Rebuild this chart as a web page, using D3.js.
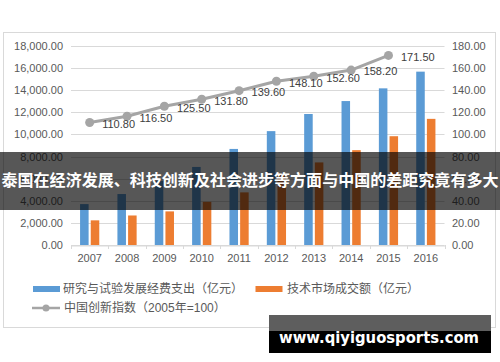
<!DOCTYPE html>
<html>
<head>
<meta charset="utf-8">
<script src="https://cdn.jsdelivr.net/npm/d3@7"></script>
<style>
    body { margin: 0; background: #fff; }
    svg { display: block; font-family: "Liberation Sans", "Noto Sans CJK SC", sans-serif; }
</style>
</head>
<body>
<script>
(function(){

// data
var years = ["2007", "2008", "2009", "2010", "2011", "2012", "2013", "2014", "2015", "2016"];
var rdSpend = [3700, 4610, 5800, 7060, 8690, 10300, 11850, 13020, 14170, 15680]; // 研究与试验发展经费支出
var techMarket = [2230, 2670, 3040, 3910, 4760, 6440, 7470, 8580, 9840, 11410]; // 技术市场成交额
var indexYears = ["2007", "2008", "2009", "2010", "2011", "2012", "2013", "2014", "2015"];
var innovIndex = [110.8, 116.5, 125.5, 131.8, 139.6, 148.1, 152.6, 158.2, 171.5]; // 中国创新指数
var leftTicks = [0, 2000, 4000, 6000, 8000, 10000, 12000, 14000, 16000, 18000];
var rightTicks = [0, 20, 40, 60, 80, 100, 120, 140, 160, 180];
var seriesNames = ["研究与试验发展经费支出（亿元）", "技术市场成交额（亿元）", "中国创新指数（2005年=100）"];
var overlayTitle = "泰国在经济发展、科技创新及社会进步等方面与中国的差距究竟有多大";
var watermark = "www.qiyiguosports.com";

var colors = ["#5b9bd5", "#ed7d31", "#a5a5a5"];

var width = 500, height = 362;
var plotLeft = 71, plotRight = 444.5, plotTop = 46, plotBottom = 245;

var svg = d3.select("body")
    .append("svg")
    .attr("width", width)
    .attr("height", height);

// chart frame
svg.append("rect")
    .attr("x", 3.5).attr("y", 32.5)
    .attr("width", 492).attr("height", 295)
    .attr("fill", "#fff")
    .attr("stroke", "#d9d9d9");

// scales
var x = d3.scaleBand()
    .domain(years)
    .range([plotLeft, plotRight]);

var x1 = d3.scaleBand()
    .domain(["rd", "tm"])
    .range([0, x.bandwidth()])
    .paddingInner(0.2)
    .paddingOuter(0.85);

var y = d3.scaleLinear()
    .domain([0, 18000])
    .range([plotBottom, plotTop]);

var y2 = d3.scaleLinear()
    .domain([0, 180])
    .range([plotBottom, plotTop]);

// gridlines
svg.append("g")
    .selectAll("line")
    .data(leftTicks)
    .enter()
    .append("line")
    .attr("x1", plotLeft).attr("x2", plotRight)
    .attr("y1", function(d){ return Math.round(y(d)) + 0.5; })
    .attr("y2", function(d){ return Math.round(y(d)) + 0.5; })
    .attr("stroke", "#d9d9d9")
    .attr("stroke-width", 1);

// left axis
var leftAxis = svg.append("g")
    .attr("transform", "translate(" + plotLeft + ",0)")
    .call(d3.axisLeft(y).tickValues(leftTicks).tickFormat(d3.format(",.2f")).tickSize(0).tickPadding(8));
leftAxis.select(".domain").remove();
leftAxis.selectAll("text")
    .attr("fill", "#595959")
    .style("font-size", "11px");

// right axis
var rightAxis = svg.append("g")
    .attr("transform", "translate(" + plotRight + ",0)")
    .call(d3.axisRight(y2).tickValues(rightTicks).tickFormat(d3.format(".2f")).tickSize(0).tickPadding(7.5));
rightAxis.select(".domain").remove();
rightAxis.selectAll("text")
    .attr("fill", "#595959")
    .style("font-size", "11px");

// bottom axis
var bottomAxis = svg.append("g")
    .attr("transform", "translate(0," + (Math.round(plotBottom) + 0.5) + ")")
    .call(d3.axisBottom(x).tickSize(0).tickPadding(9));
bottomAxis.select(".domain").attr("stroke", "#d9d9d9");
bottomAxis.selectAll("text")
    .attr("fill", "#595959")
    .style("font-size", "11px");

// category tick marks between years
svg.append("g")
    .selectAll("line")
    .data(years.concat(["end"]))
    .enter()
    .append("line")
    .attr("x1", function(d, i){ return Math.round(plotLeft + i * x.step()) + 0.5; })
    .attr("x2", function(d, i){ return Math.round(plotLeft + i * x.step()) + 0.5; })
    .attr("y1", plotBottom).attr("y2", plotBottom + 4)
    .attr("stroke", "#d9d9d9");

// bars
var barGroups = svg.append("g")
    .selectAll("g")
    .data(years)
    .enter()
    .append("g")
    .attr("transform", function(d){ return "translate(" + x(d) + ",0)"; });

barGroups.append("rect")
    .attr("x", x1("rd"))
    .attr("width", x1.bandwidth())
    .attr("y", function(d, i){ return y(rdSpend[i]); })
    .attr("height", function(d, i){ return plotBottom - y(rdSpend[i]); })
    .attr("fill", colors[0]);

barGroups.append("rect")
    .attr("x", x1("tm"))
    .attr("width", x1.bandwidth())
    .attr("y", function(d, i){ return y(techMarket[i]); })
    .attr("height", function(d, i){ return plotBottom - y(techMarket[i]); })
    .attr("fill", colors[1]);

// index line
var line = d3.line()
    .x(function(d, i){ return x(indexYears[i]) + x.bandwidth() / 2; })
    .y(function(d){ return y2(d); });

svg.append("path")
    .datum(innovIndex)
    .attr("d", line)
    .attr("fill", "none")
    .attr("stroke", colors[2])
    .attr("stroke-width", 3)
    .attr("stroke-linejoin", "round");

svg.append("g")
    .selectAll("circle")
    .data(innovIndex)
    .enter()
    .append("circle")
    .attr("cx", function(d, i){ return x(indexYears[i]) + x.bandwidth() / 2; })
    .attr("cy", function(d){ return y2(d); })
    .attr("r", 4.5)
    .attr("fill", colors[2]);

svg.append("g")
    .selectAll("text")
    .data(innovIndex)
    .enter()
    .append("text")
    .attr("x", function(d, i){ return x(indexYears[i]) + x.bandwidth() / 2 + 12.5; })
    .attr("y", function(d){ return y2(d) + 1.5; })
    .attr("dy", "0.35em")
    .attr("fill", "#404040")
    .style("font-size", "11px")
    .text(function(d){ return d3.format(".2f")(d); });

// legend
var legend = svg.append("g").style("font-size", "12px").attr("fill", "#595959");

legend.append("rect")
    .attr("x", 33).attr("y", 286).attr("width", 27).attr("height", 6)
    .attr("fill", colors[0]);
legend.append("text")
    .attr("x", 63).attr("y", 289).attr("dy", "0.35em")
    .text(seriesNames[0]);

legend.append("rect")
    .attr("x", 255.5).attr("y", 286).attr("width", 27).attr("height", 6)
    .attr("fill", colors[1]);
legend.append("text")
    .attr("x", 287).attr("y", 289).attr("dy", "0.35em")
    .text(seriesNames[1]);

legend.append("line")
    .attr("x1", 32).attr("x2", 60).attr("y1", 308).attr("y2", 308)
    .attr("stroke", colors[2]).attr("stroke-width", 2.5);
legend.append("circle")
    .attr("cx", 46).attr("cy", 308).attr("r", 3.5)
    .attr("fill", colors[2]);
legend.append("text")
    .attr("x", 64).attr("y", 308).attr("dy", "0.35em")
    .text(seriesNames[2]);

// dark overlay band with title
svg.append("rect")
    .attr("x", 0).attr("y", 152)
    .attr("width", width).attr("height", 58)
    .attr("fill", "rgba(0,0,0,0.66)");

svg.append("text")
    .attr("x", width / 2).attr("y", 180)
    .attr("dy", "0.35em")
    .attr("text-anchor", "middle")
    .attr("fill", "#fff")
    .style("font-family", "'Noto Sans CJK SC', sans-serif")
    .style("font-size", "16px")
    .style("font-weight", "bold")
    .attr("textLength", 497)
    .attr("lengthAdjust", "spacingAndGlyphs")
    .text(overlayTitle);

// watermark box
svg.append("rect")
    .attr("x", 269).attr("y", 315)
    .attr("width", 222).attr("height", 38)
    .attr("fill", "#000");
svg.append("rect")
    .attr("x", 269).attr("y", 315)
    .attr("width", 222).attr("height", 16)
    .attr("fill", "#5e5e5e");
svg.append("text")
    .attr("x", 279).attr("y", 342.5)
    .attr("fill", "#fff")
    .style("font-family", "'DejaVu Sans', sans-serif")
    .style("font-size", "15px")
    .style("font-weight", "bold")
    .attr("textLength", 200)
    .attr("lengthAdjust", "spacingAndGlyphs")
    .text(watermark);

})();
</script>
</body>
</html>
